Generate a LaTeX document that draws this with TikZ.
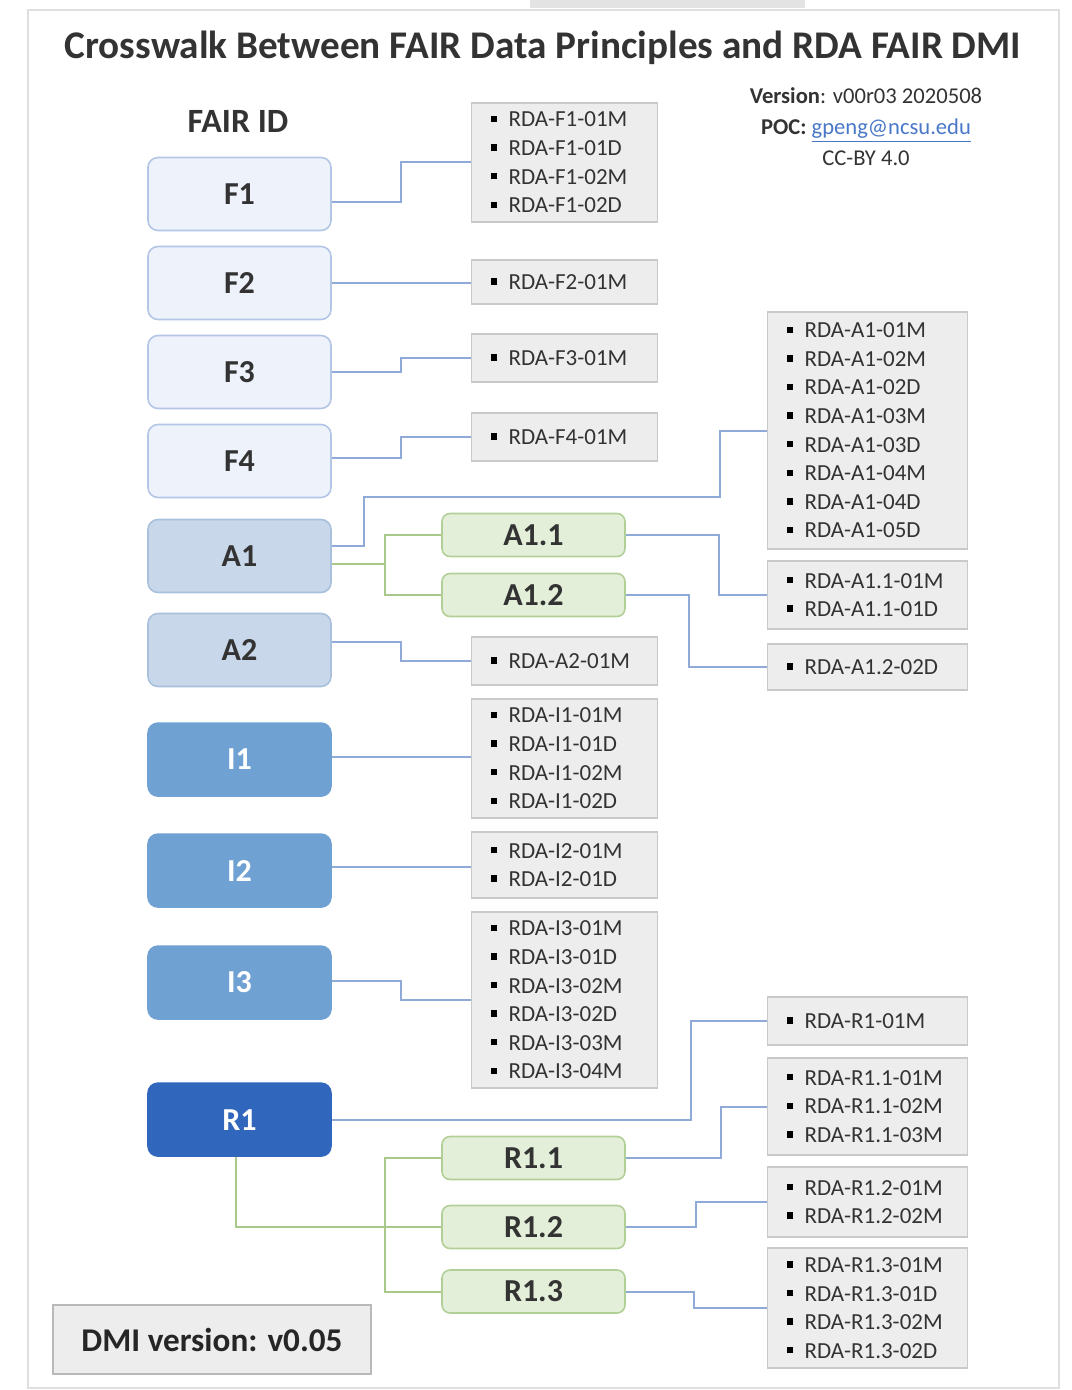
\documentclass[tikz,border=0pt]{standalone}
\usepackage{fontspec}
\setmainfont{Carlito}
\usepackage{tikz}
\usetikzlibrary{positioning}
\usetikzlibrary{calc}

\definecolor{fairF}{HTML}{EEF3FB}
\definecolor{fairFline}{HTML}{B4C6E6}
\definecolor{fairA}{HTML}{C8D7E9}
\definecolor{fairAline}{HTML}{A9C1DC}
\definecolor{fairI}{HTML}{70A1D3}
\definecolor{fairR}{HTML}{3066BB}
\definecolor{subgreen}{HTML}{E3EFD9}
\definecolor{subgreenline}{HTML}{B3CF98}
\definecolor{listgray}{HTML}{EDEDED}
\definecolor{listline}{HTML}{C9C9C9}
\definecolor{linkblue}{HTML}{8FAAD6}
\definecolor{linkgreen}{HTML}{A8C98A}
\definecolor{textdark}{HTML}{333333}
\definecolor{maillink}{HTML}{4A78C8}

\newcommand{\rdaitem}[1]{\textcolor{black}{\rule[2.4pt]{3.2pt}{3.2pt}}\hspace{5.8pt}#1}

\tikzset{
  fairid/.style={rounded corners=5pt, line width=0.8pt, minimum width=91.5pt, minimum height=36.5pt,
    inner sep=0pt, font=\fontsize{16}{18}\selectfont\bfseries},
  fidF/.style={fairid, fill=fairF, draw=fairFline, text=textdark},
  fidA/.style={fairid, fill=fairA, draw=fairAline, text=textdark},
  fidI/.style={fairid, fill=fairI, draw=fairI, text=white},
  fidR/.style={fairid, fill=fairR, draw=fairR, text=white},
  subid/.style={rounded corners=4pt, line width=0.8pt, fill=subgreen, draw=subgreenline, text=textdark,
    minimum width=91.5pt, minimum height=21.5pt, inner sep=0pt, font=\fontsize{16}{18}\selectfont\bfseries},
  rdalist/.style={draw=listline, fill=listgray, line width=0.6pt, anchor=west, align=left,
    text width=#1, inner xsep=9.5pt, inner ysep=2pt, text=black!80,
    font=\fontsize{11.5}{14.3}\selectfont},
  rdalist/.default=74pt,
  blueline/.style={draw=linkblue, line width=1pt},
  greenline/.style={draw=linkgreen, line width=1pt}
}

\begin{document}
\begin{tikzpicture}[x=0.5pt, y=-0.5pt]
    \useasboundingbox (0,0) rectangle (1071,1390);
    \fill[white] (0,0) rectangle (1071,1390);
    \fill[gray!22] (530,0) rectangle (805,8);
    \draw[gray!25, line width=0.8pt] (28,10) rectangle (1059,1388);

    \node[text=textdark, font=\fontsize{19.6}{24}\selectfont\bfseries] (title) at (543,48)
        {Crosswalk Between FAIR Data Principles and RDA FAIR DMI};
    \node[align=center, text=textdark, font=\fontsize{11.3}{15.5}\selectfont] (ver) at (866,127)
        {\textbf{Version}: v00r03 2020508\\
         \textbf{POC:} \textcolor{maillink}{\underline{gpeng@ncsu.edu}}\\
         CC-BY 4.0};
    \node[text=textdark, font=\fontsize{17}{19}\selectfont\bfseries] (head) at (238,121) {FAIR ID};

    % FAIR identifiers
    \node[fidF] (F1) at (239.5,194) {F1};
    \node[fidF, below=7.2pt of F1] (F2) {F2};
    \node[fidF, below=7.2pt of F2] (F3) {F3};
    \node[fidF, below=7.2pt of F3] (F4) {F4};
    \node[fidA, below=10.2pt of F4] (A1) {A1};
    \node[fidA, below=9.7pt of A1] (A2) {A2};
    \node[fidI, below=17.5pt of A2] (I1) {I1};
    \node[fidI, below=18.2pt of I1] (I2) {I2};
    \node[fidI, below=18.7pt of I2] (I3) {I3};
    \node[fidR, below=31.2pt of I3] (R1) {R1};

    \node[subid] (A11) at (533.5,535) {A1.1};
    \node[subid] (A12) at (533.5,595) {A1.2};
    \node[subid] (R11) at (533.5,1158) {R1.1};
    \node[subid] (R12) at (533.5,1227) {R1.2};
    \node[subid] (R13) at (533.5,1291.5) {R1.3};

    % RDA indicators
    \node[rdalist, minimum height=59.5pt] (lF1) at (471,162.5)
        {\rdaitem{RDA-F1-01M}\\\rdaitem{RDA-F1-01D}\\\rdaitem{RDA-F1-02M}\\\rdaitem{RDA-F1-02D}};
    \node[rdalist, minimum height=22pt] (lF2) at (471,282) {\rdaitem{RDA-F2-01M}};
    \node[rdalist, minimum height=24pt] (lF3) at (471,358) {\rdaitem{RDA-F3-01M}};
    \node[rdalist, minimum height=24pt] (lF4) at (471,437) {\rdaitem{RDA-F4-01M}};
    \node[rdalist, minimum height=24pt] (lA2) at (471,661) {\rdaitem{RDA-A2-01M}};
    \node[rdalist, minimum height=59.5pt] (lI1) at (471,758.5)
        {\rdaitem{RDA-I1-01M}\\\rdaitem{RDA-I1-01D}\\\rdaitem{RDA-I1-02M}\\\rdaitem{RDA-I1-02D}};
    \node[rdalist, minimum height=33pt] (lI2) at (471,865)
        {\rdaitem{RDA-I2-01M}\\\rdaitem{RDA-I2-01D}};
    \node[rdalist, minimum height=88pt] (lI3) at (471,1000)
        {\rdaitem{RDA-I3-01M}\\\rdaitem{RDA-I3-01D}\\\rdaitem{RDA-I3-02M}\\
         \rdaitem{RDA-I3-02D}\\\rdaitem{RDA-I3-03M}\\\rdaitem{RDA-I3-04M}};

    \node[rdalist=81pt, minimum height=118.5pt] (lA1) at (767,430.5)
        {\rdaitem{RDA-A1-01M}\\\rdaitem{RDA-A1-02M}\\\rdaitem{RDA-A1-02D}\\\rdaitem{RDA-A1-03M}\\
         \rdaitem{RDA-A1-03D}\\\rdaitem{RDA-A1-04M}\\\rdaitem{RDA-A1-04D}\\\rdaitem{RDA-A1-05D}};
    \node[rdalist=81pt, minimum height=34pt] (lA11) at (767,595)
        {\rdaitem{RDA-A1.1-01M}\\\rdaitem{RDA-A1.1-01D}};
    \node[rdalist=81pt, minimum height=23pt] (lA12) at (767,667) {\rdaitem{RDA-A1.2-02D}};
    \node[rdalist=81pt, minimum height=24pt] (lR1) at (767,1021) {\rdaitem{RDA-R1-01M}};
    \node[rdalist=81pt, minimum height=48.5pt] (lR11) at (767,1106.5)
        {\rdaitem{RDA-R1.1-01M}\\\rdaitem{RDA-R1.1-02M}\\\rdaitem{RDA-R1.1-03M}};
    \node[rdalist=81pt, minimum height=35pt] (lR12) at (767,1202)
        {\rdaitem{RDA-R1.2-01M}\\\rdaitem{RDA-R1.2-02M}};
    \node[rdalist=81pt, minimum height=60pt] (lR13) at (767,1308)
        {\rdaitem{RDA-R1.3-01M}\\\rdaitem{RDA-R1.3-01D}\\\rdaitem{RDA-R1.3-02M}\\\rdaitem{RDA-R1.3-02D}};

    \node[draw=gray!55, fill=listgray, line width=0.6pt, minimum width=159pt, minimum height=34.5pt,
        text=black!85, font=\fontsize{16.6}{18}\selectfont\bfseries] (dmi) at (212,1339.5) {DMI version: v0.05};

    % connectors
    \draw[blueline] ([yshift=-4pt]F1.east) -- ++(69,0) |- (lF1.west);
    \draw[blueline] (F2.east) -- (F2.east -| lF2.west);
    \draw[blueline] (F3.east) -- ++(69,0) |- (lF3.west);
    \draw[blueline] ([yshift=1.5pt]F4.east) -- ++(69,0) |- (lF4.west);
    \draw[blueline] ([yshift=5pt]A1.east) -- ++(32,0) |- (720,497) |- (lA1.west);
    \draw[blueline] ([yshift=4pt]A2.east) -- ++(69,0) |- (lA2.west);
    \draw[blueline] ([yshift=1.5pt]I1.east) -- ([yshift=1.5pt]I1.east -| lI1.west);
    \draw[blueline] ([yshift=2pt]I2.east) -- ([yshift=2pt]I2.east -| lI2.west);
    \draw[blueline] ([yshift=1pt]I3.east) -- ++(69,0) |- (lI3.west);
    \draw[blueline] (R1.east) -- ++(359,0) |- (lR1.west);
    \draw[blueline] (A11.east) -- ++(93,0) |- (lA11.west);
    \draw[blueline] (A12.east) -- ++(63,0) |- (lA12.west);
    \draw[blueline] (R11.east) -- ++(95,0) |- (lR11.west);
    \draw[blueline] (R12.east) -- ++(70,0) |- (lR12.west);
    \draw[blueline] (R13.east) -- ++(68,0) |- (lR13.west);

    \coordinate (Ajoin) at ($([yshift=-4pt]A1.east -| A11.west)+(-56,0)$);
    \draw[greenline] ([yshift=-4pt]A1.east) -- (Ajoin);
    \draw[greenline] (A11.west) -| (Ajoin) |- (A12.west);
    \draw[greenline] ([xshift=-2pt]R1.south) |- (R12.west);
    \draw[greenline] (R11.west) -- ++(-56,0) |- (R13.west);
\end{tikzpicture}
\end{document}
